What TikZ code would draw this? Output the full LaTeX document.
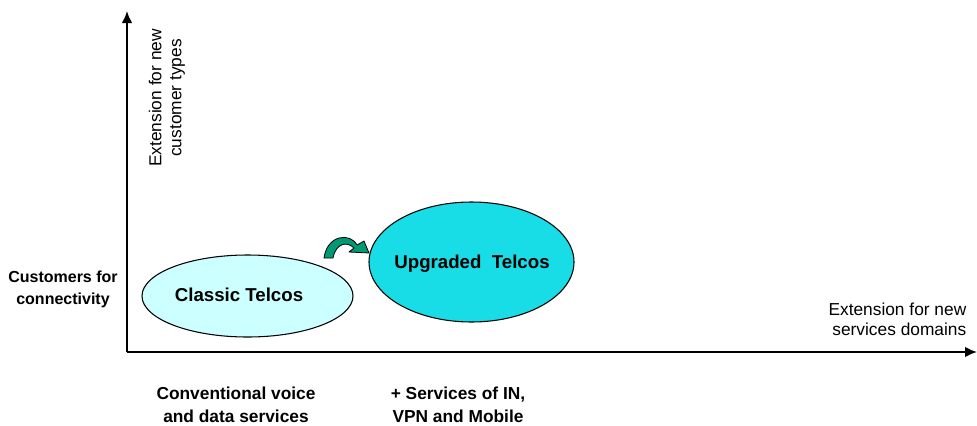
\documentclass[tikz,border=0pt]{standalone}
\usepackage{fontspec}
\setmainfont{Liberation Sans}
\usetikzlibrary{arrows.meta}
\definecolor{lightcyan}{RGB}{204,255,255}
\definecolor{brightcyan}{RGB}{25,221,230}
\definecolor{turngreen}{RGB}{0,153,115}
\tikzset{
	axis/.style={line width=1.5pt,-{Latex[length=9pt,width=8pt]}},
	telco/.style={draw,line width=0.8pt},
	telcotext/.style={font=\fontsize{14}{16}\selectfont\bfseries},
	sidelabel/.style={align=center,font=\fontsize{12}{16.5}\selectfont\bfseries},
	bottomlabel/.style={align=center,font=\fontsize{13}{17}\selectfont\bfseries},
	axislabel/.style={align=center,font=\fontsize{13}{15}\selectfont}
}
\begin{document}
\begin{tikzpicture}[x=0.75pt,y=-0.75pt]
		\useasboundingbox (0,0) rectangle (977,425);
		\coordinate (origin) at (127,352);
		\coordinate (ytip) at (127,11);
		\coordinate (xtip) at (977,352);
		\draw [axis] (origin) -- (ytip);
		\draw [axis] (origin) -- (xtip);
		\node [axislabel,rotate=90] (ylabel) at (167,98) {Extension for new\\customer types};
		\node [axislabel,align=right,anchor=east] (xlabel) at (971,319) {Extension for new\\services domains};
		\node [sidelabel] (customers) at (63,289) {Customers for\\connectivity};
		\node [bottomlabel] (conventional) at (236,405) {Conventional voice\\and data services};
		\node [bottomlabel] (services) at (458,405) {+ Services of IN,\\VPN and Mobile};
		% the two telcos
		\draw [telco,fill=lightcyan] (247.5,296) ellipse [x radius=105.5,y radius=41];
		\node [telcotext] (classic) at (239,295) {Classic Telcos};
		\draw [telco,fill=brightcyan] (471.5,262) ellipse [x radius=102.5,y radius=60];
		\node [telcotext] (upgraded) at (472,264) {Upgraded~~Telcos};
		% turn arrow
		\draw [fill=turngreen,line width=0.6pt,line join=round]
			(324,258) .. controls (327,235) and (350,232) .. (357,245)
			-- (364,241) -- (369,253) -- (349,252) -- (354,248)
			.. controls (347,241) and (336,243) .. (333,258) -- cycle;
	\end{tikzpicture}
\end{document}
